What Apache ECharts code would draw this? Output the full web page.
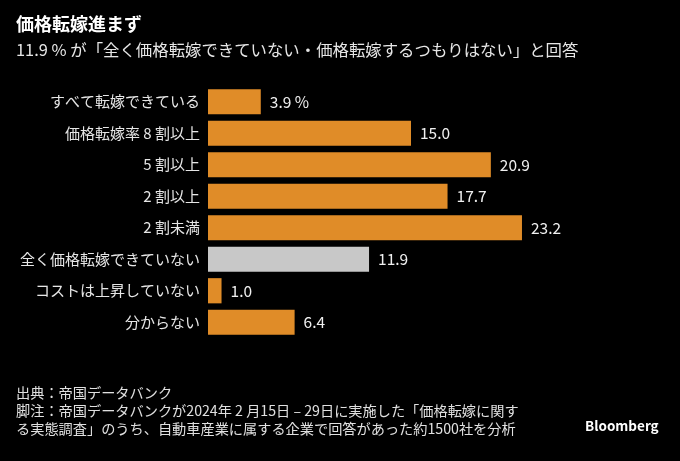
<!DOCTYPE html>
<html><head><meta charset="utf-8">
<script src="https://cdn.jsdelivr.net/npm/echarts@6/dist/echarts.min.js"></script>
<style>html,body{margin:0;padding:0;background:#000;}#c{width:680px;height:461px;}</style>
</head><body><div id="c"></div>
<script>
const categories = ['すべて転嫁できている','価格転嫁率 8 割以上','5 割以上','2 割以上','2 割未満','全く価格転嫁できていない','コストは上昇していない','分からない'];
const values = [3.9, 15.0, 20.9, 17.7, 23.2, 11.9, 1.0, 6.4];
const highlightIndex = 5;
const titleText = '価格転嫁進まず';
const subtitleText = '11.9 % が「全く価格転嫁できていない・価格転嫁するつもりはない」と回答';
const footerLines = ['出典：帝国データバンク','脚注：帝国データバンクが2024年 2 月15日 – 29日に実施した「価格転嫁に関す','る実態調査」のうち、自動車産業に属する企業で回答があった約1500社を分析'];

const FONT = '"Noto Sans CJK JP", "Noto Sans", sans-serif';
const chart = echarts.init(document.getElementById('c'));
chart.setOption({
  backgroundColor: '#000',
  animation: false,
  grid: {left: 208, top: 86, height: 252, width: 406},
  xAxis: {type: 'value', min: 0, max: 30, show: false},
  yAxis: {
    type: 'category', data: categories, inverse: true,
    axisLine: {show: false}, axisTick: {show: false},
    axisLabel: {color: '#e6e6e6', fontSize: 15, fontFamily: FONT, margin: 8}
  },
  series: [{
    type: 'bar', barCategoryGap: '20%',
    data: values.map((v, i) => ({value: v, itemStyle: {color: i === highlightIndex ? '#c8c8c8' : '#e08c28'}})),
    label: {
      show: true, position: 'right', distance: 9, color: '#f0f0f0', fontSize: 15.5, fontFamily: FONT,
      formatter: p => p.dataIndex === 0 ? p.value.toFixed(1) + ' %' : p.value.toFixed(1)
    }
  }],
  graphic: [
    {type: 'text', left: 16, top: 15, style: {text: titleText, fill: '#fff', font: 'bold 18px ' + FONT}},
    {type: 'text', left: 16, top: 42, style: {text: subtitleText, fill: '#e6e6e6', font: '16.4px ' + FONT}},
    {type: 'text', left: 16, top: 386, style: {text: footerLines[0], fill: '#e0e0e0', font: '14.2px ' + FONT}},
    {type: 'text', left: 16, top: 404, style: {text: footerLines[1], fill: '#e0e0e0', font: '14.2px ' + FONT}},
    {type: 'text', left: 16, top: 422, style: {text: footerLines[2], fill: '#e0e0e0', font: '14.2px ' + FONT}},
    {type: 'text', left: 585, top: 419, style: {text: 'Bloomberg', fill: '#fff', font: 'bold 13.5px ' + FONT}}
  ]
});
</script></body></html>
